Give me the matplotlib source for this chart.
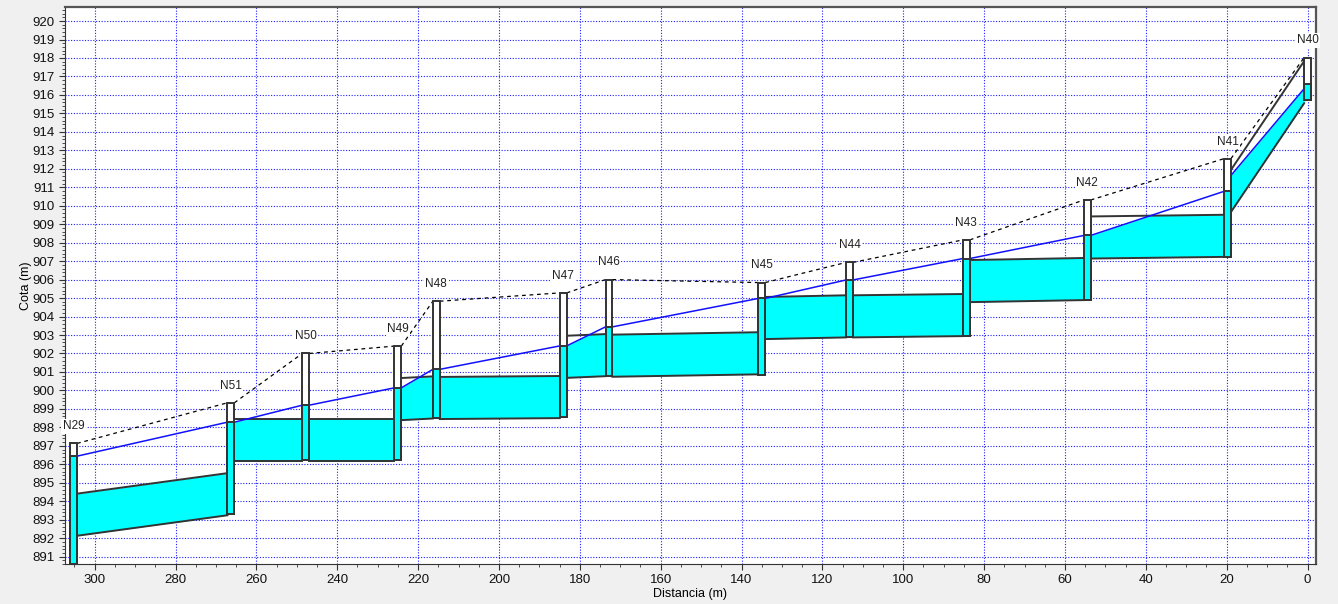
import numpy as np
import matplotlib.pyplot as plt
from matplotlib.patches import Rectangle
from matplotlib.ticker import MultipleLocator

plt.rcParams['font.family'] = ['Liberation Sans', 'DejaVu Sans']

# nodos (de izquierda a derecha en el perfil)
names = ['N29', 'N51', 'N50', 'N49', 'N48', 'N47', 'N46', 'N45', 'N44', 'N43', 'N42', 'N41', 'N40']
dist = [305.2, 266.3, 247.8, 225.0, 215.5, 184.1, 172.8, 135.0, 113.3, 84.4, 54.5, 19.8, 0.0]
rim = [897.13, 899.33, 902.00, 902.40, 904.83, 905.28, 906.00, 905.84, 906.93, 908.15, 910.31, 912.55, 918.02]
invert = [890.60, 893.31, 896.23, 896.23, 898.52, 898.54, 900.77, 900.85, 902.88, 902.94, 904.89, 907.20, 915.75]
head = [896.44, 898.28, 899.20, 900.14, 901.14, 902.41, 903.44, 904.98, 905.98, 907.14, 908.39, 910.78, 916.61]

# conductos entre nodos consecutivos: cota de fondo y lamina en cada extremo
bot_left = [892.13, 896.19, 896.19, 898.39, 898.45, 900.68, 900.74, 902.78, 902.87, 904.78, 907.14, 909.66]
bot_right = [893.24, 896.19, 896.19, 898.48, 898.50, 900.77, 900.87, 902.87, 902.94, 904.89, 907.23, 915.55]
ws_left = [896.44, 898.28, 899.20, 900.14, 901.14, 902.41, 903.44, 904.98, 905.98, 907.14, 908.39, 911.64]
ws_right = [898.28, 899.20, 900.14, 901.14, 902.41, 903.44, 904.98, 905.98, 907.14, 908.39, 910.78, 916.34]
diameter = 2.28

half_w = 0.85  # medio ancho de la caja del nodo (m)
line_col = '#333333'

fig = plt.figure(figsize=(13.38, 6.04), dpi=100, facecolor='#f0f0f0')
ax = fig.add_axes([0.0484, 0.0662, 0.9352, 0.9222])
ax.set_facecolor('white')

t = np.linspace(0, 1, 400)
for i in range(len(bot_left)):
    xa = dist[i] - half_w
    xb = dist[i + 1] + half_w
    x = xa + t * (xb - xa)
    bottom = bot_left[i] + t * (bot_right[i] - bot_left[i])
    crown = bottom + diameter
    ws = ws_left[i] + t * (ws_right[i] - ws_left[i])
    ax.fill_between(x, bottom, np.minimum(ws, crown), color='#00ffff', lw=0, zorder=2)
    ax.plot([xa, xb], [bot_left[i], bot_right[i]], color=line_col, lw=1.4, zorder=3)
    ax.plot([xa, xb], [bot_left[i] + diameter, bot_right[i] + diameter], color=line_col, lw=1.4, zorder=3)
    ax.plot([xa, xb], [ws_left[i], ws_right[i]], color='#1010ff', lw=1.1, zorder=4)
    ax.plot([xa, xb], [rim[i], rim[i + 1]], color='black', lw=0.9, ls=(0, (3, 3)), zorder=4)

for name, d, r, inv, h in zip(names, dist, rim, invert, head):
    ax.add_patch(Rectangle((d - half_w, inv), 2 * half_w, r - inv,
                           facecolor='white', edgecolor=line_col, lw=1.4, zorder=5))
    ax.add_patch(Rectangle((d - half_w, inv), 2 * half_w, h - inv,
                           facecolor='#00ffff', edgecolor=line_col, lw=1.4, zorder=6))
    ax.annotate(name, (d, r), xytext=(0, 8), textcoords='offset points',
                ha='center', va='bottom', fontsize=8.5, color='#222222', zorder=7,
                bbox=dict(facecolor='white', edgecolor='none', pad=1.0))

ax.set_xlim(307.4, -2.1)
ax.set_ylim(890.6, 920.76)
ax.xaxis.set_major_locator(MultipleLocator(20))
ax.xaxis.set_minor_locator(MultipleLocator(5))
ax.yaxis.set_major_locator(MultipleLocator(1))
ax.yaxis.set_minor_locator(MultipleLocator(0.2))
ax.grid(True, which='major', color='#2020ff', ls=(0, (1, 1.5)), lw=0.8, zorder=0)
ax.set_axisbelow(True)

ax.tick_params(which='major', length=4, labelsize=9.5, colors='#333333', labelcolor='#111111')
ax.tick_params(which='minor', length=2, colors='#333333')
for side in ['left', 'bottom']:
    ax.spines[side].set_color('#333333')
for side in ['top', 'right']:
    ax.spines[side].set_color('#555555')
    ax.spines[side].set_linewidth(1.6)

ax.set_xlabel('Distancia (m)', fontsize=9, labelpad=1)
ax.set_ylabel('Cota (m)', fontsize=9)
ax.yaxis.set_label_coords(-0.026, 0.5)

fig.savefig('out.png', dpi=100, facecolor=fig.get_facecolor())
